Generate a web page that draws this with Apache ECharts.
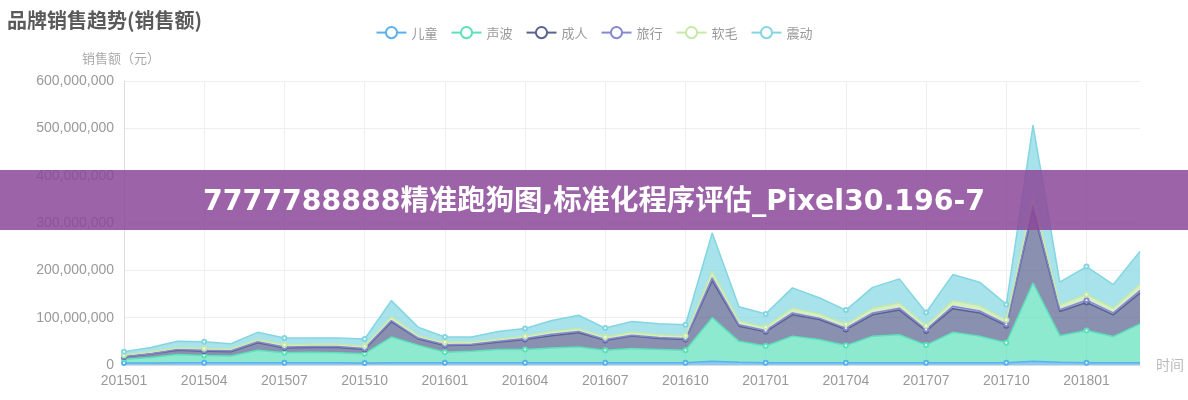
<!DOCTYPE html>
<html>
<head>
<meta charset="utf-8">
<script src="https://cdn.jsdelivr.net/npm/echarts@6/dist/echarts.min.js"></script>
<style>html,body{margin:0;padding:0;background:#fff}#c{width:1188px;height:400px}</style>
</head>
<body>
<div id="c"></div>
<script>
const categories = ['201501','201502','201503','201504','201505','201506','201507','201508','201509','201510','201511','201512',
  '201601','201602','201603','201604','201605','201606','201607','201608','201609','201610','201611','201612',
  '201701','201702','201703','201704','201705','201706','201707','201708','201709','201710','201711','201712',
  '201801','201802','201803'];
const seriesNames = ['儿童','声波','成人','旅行','软毛','震动'];
const erTong = [4000000,4000000,5000000,5000000,5000000,5000000,5000000,5000000,5000000,4000000,5000000,5000000,
  5000000,5000000,5000000,5000000,5000000,5000000,5000000,5000000,5000000,5000000,8000000,6000000,
  5000000,5000000,5000000,5000000,5000000,5000000,5000000,5000000,5000000,5000000,8000000,6000000,
  5000000,5000000,5000000];
const shengBo = [8000000,12000000,17000000,15000000,14000000,26000000,21000000,22000000,21000000,20000000,54000000,37000000,
  22000000,24000000,28000000,28000000,31000000,33000000,26000000,30000000,28000000,26000000,92000000,44000000,
  35000000,56000000,49000000,36000000,56000000,59000000,37000000,64000000,56000000,42000000,165000000,56000000,
  68000000,55000000,82000000];
const chengRen = [5000000,7000000,9000000,9000000,9000000,16000000,10000000,10000000,11000000,9000000,32000000,13000000,
  14000000,13000000,15000000,21000000,26000000,30000000,21000000,26000000,23000000,23000000,78000000,32000000,
  30000000,45000000,42000000,34000000,45000000,52000000,30000000,50000000,49000000,36000000,155000000,51000000,
  59000000,46000000,65000000];
const lvXing = [1000000,1000000,2000000,2000000,2000000,2000000,2000000,2000000,2000000,2000000,3000000,2000000,
  2000000,2000000,2000000,2000000,3000000,3000000,2000000,2000000,2000000,2000000,6000000,3000000,
  3000000,4000000,3000000,3000000,4000000,4000000,3000000,5000000,4000000,3000000,8000000,4000000,
  5000000,4000000,5000000];
const ruanMao = [3000000,4000000,4000000,4000000,4000000,5000000,5000000,5000000,5000000,5000000,8000000,5000000,
  5000000,5000000,5000000,5000000,6000000,6000000,5000000,6000000,6000000,6000000,14000000,8000000,
  7000000,10000000,9000000,8000000,10000000,11000000,8000000,12000000,11000000,9000000,20000000,10000000,
  12000000,10000000,14000000];
const zhenDong = [7000000,9000000,13000000,14000000,11000000,15000000,14000000,13000000,13000000,15000000,34000000,18000000,
  11000000,10000000,16000000,16000000,23000000,28000000,19000000,23000000,23000000,23000000,81000000,30000000,
  28000000,43000000,34000000,30000000,44000000,51000000,28000000,55000000,50000000,33000000,151000000,48000000,
  59000000,50000000,69000000];
const yTicks = [0,100000000,200000000,300000000,400000000,500000000,600000000];
const colors = ['#5ab1ef','#5ce1ba','#58638e','#8688d4','#c6e9a9','#83d6e1'];
const dataSets = [erTong, shengBo, chengRen, lvXing, ruanMao, zhenDong];
const bannerText = '7777788888精准跑狗图,标准化程序评估_Pixel30.196-7';

const chart = echarts.init(document.getElementById('c'), null, {renderer:'canvas'});
const series = seriesNames.map((n,i)=>({
  name:n, type:'line', stack:'total', data:dataSets[i],
  symbol:'emptyCircle',
  symbolSize:(v,p)=> (p.dataIndex % 3 === 0 ? 4 : 0),
  lineStyle:{width:1.5, color:colors[i]},
  itemStyle:{color:colors[i], borderColor:'#fff', borderWidth:1.5},
  areaStyle:{color:colors[i], opacity:0.7},
  emphasis:{disabled:true}
}));
chart.setOption({
  animation:false,
  color:colors,
  title:{text:'品牌销售趋势(销售额)', left:2, top:5, textStyle:{fontSize:20, fontWeight:'bold', color:'#5a5a5a', fontFamily:'Noto Sans CJK SC'}},
  legend:{data:seriesNames, top:21, left:'center', itemGap:13, itemWidth:30, itemHeight:14,
    textStyle:{color:'#999', fontSize:13, fontFamily:'Noto Sans CJK SC'}},
  grid:{left:124, right:48, top:81, bottom:35, containLabel:false},
  xAxis:{type:'category', data:categories, boundaryGap:false, name:'时间', nameGap:16,
    nameTextStyle:{color:'#bbb', fontSize:14, fontFamily:'Noto Sans CJK SC'},
    axisLine:{lineStyle:{color:'#ddd'}}, axisTick:{show:false},
    axisLabel:{interval:2, color:'#999', fontSize:14, margin:9},
    splitLine:{show:true, interval:2, lineStyle:{color:'#eee'}}},
  yAxis:{type:'value', min:yTicks[0], max:yTicks[yTicks.length-1], interval:100000000, name:'销售额（元）', nameGap:16,
    nameTextStyle:{color:'#aaa', fontSize:13, fontFamily:'Noto Sans CJK SC', align:'right', padding:[0,-36,0,0]},
    axisLine:{show:true, lineStyle:{color:'#ddd'}}, axisTick:{show:false},
    axisLabel:{color:'#999', fontSize:14, margin:10, formatter:v=>v.toLocaleString('en-US')},
    splitLine:{lineStyle:{color:'#eee'}}},
  series:series,
  graphic:[
    {type:'rect', left:0, top:170, z:100, shape:{width:1188, height:60}, style:{fill:'rgba(140,72,153,0.85)'}},
    {type:'text', left:'center', top:188, z:101, style:{text:bannerText, fill:'#fff', font:'bold 28.4px "DejaVu Sans", "Noto Sans CJK SC", sans-serif'}}
  ]
});
</script>
</body>
</html>
